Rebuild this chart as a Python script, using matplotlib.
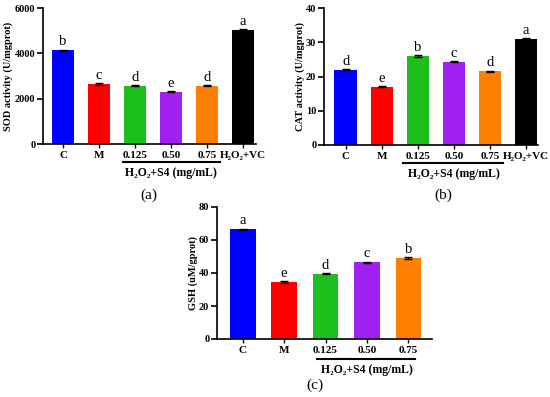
import matplotlib
matplotlib.use("Agg")
import matplotlib.pyplot as plt

plt.rcParams['font.family'] = ['Liberation Serif', 'DejaVu Serif']
plt.rcParams['font.weight'] = 'bold'

cats6 = ["C", "M", "0.125", "0.50", "0.75", "H\u2082O\u2082+VC"]
cats5 = ["C", "M", "0.125", "0.50", "0.75"]
colors = ["#0000FF", "#FF0000", "#1DBF1D", "#A020F0", "#FF8000", "#000000"]

sod = [4130, 2650, 2570, 2300, 2580, 5050]
sod_err = [25, 40, 25, 25, 25, 25]
sod_letters = ["b", "c", "d", "e", "d", "a"]

cat = [22.0, 17.0, 26.0, 24.3, 21.6, 31.0]
cat_err = [0.2, 0.2, 0.2, 0.15, 0.15, 0.1]
cat_letters = ["d", "e", "b", "c", "d", "a"]

gsh = [66.5, 34.5, 39.5, 46.5, 49.0]
gsh_err = [0.4, 0.6, 0.4, 0.4, 0.4]
gsh_letters = ["a", "e", "d", "c", "b"]

W, H = 550, 397
fig = plt.figure(figsize=(W / 100, H / 100), dpi=100)


def ax_at(x0, y0, x1, y1):
    return fig.add_axes([x0 / W, 1 - y1 / H, (x1 - x0) / W, (y1 - y0) / H])


def panel(ax, cats, vals, errs, letters, ymax, ystep, ylabel, xl, xr, letter_off):
    n = len(vals)
    xs = list(range(n))
    ax.bar(xs, vals, width=0.62, color=colors[:n], zorder=2)
    ax.errorbar(xs, vals, yerr=errs, fmt='none', ecolor='black', elinewidth=1,
                capsize=3, capthick=1, zorder=3)
    for x, v, e, l in zip(xs, vals, errs, letters):
        ax.text(x, v + e + letter_off, l, ha='center', va='bottom', fontsize=10.5,
                fontweight='normal')
    ax.set_xlim(xl, xr)
    ax.set_ylim(0, ymax)
    ax.set_yticks(list(range(0, int(ymax) + 1, ystep)))
    ax.set_xticks(xs)
    ax.set_xticklabels(cats, fontsize=8, fontweight='bold')
    ax.tick_params(axis='y', labelsize=7.5, length=4, width=1.2, direction='out', pad=1.5)
    ax.tick_params(axis='x', length=3, width=1, direction='out', pad=2)
    for lab in ax.get_yticklabels():
        lab.set_fontweight('bold')
    ax.set_ylabel(ylabel, fontsize=7.5, fontweight='bold', labelpad=1)
    ax.spines['top'].set_visible(False)
    ax.spines['right'].set_visible(False)
    ax.spines['left'].set_linewidth(1.2)
    ax.spines['bottom'].set_linewidth(1.2)


# (a) SOD
ax1 = ax_at(43, 8, 256, 144)
panel(ax1, cats6, sod, sod_err, sod_letters, 6000, 2000, "SOD activity (U/mgprot)",
      -0.56, 5.36, 60)
ax1.plot([1.65, 4.35], [-0.135, -0.135], color='black', lw=1.5,
         transform=ax1.get_xaxis_transform(), clip_on=False)
ax1.text(3, -0.215, "H\u2082O\u2082+S4 (mg/mL)", transform=ax1.get_xaxis_transform(),
         ha='center', va='center', fontsize=8.5, fontweight='bold')
fig.text(149 / W, 1 - 195 / H, "(a)", ha='center', va='center', fontsize=11,
         fontweight='normal')

# (b) CAT
ax2 = ax_at(324, 8, 538, 145)
panel(ax2, cats6, cat, cat_err, cat_letters, 40, 10, "CAT activity (U/mgprot)",
      -0.6, 5.33, 0.4)
ax2.plot([1.6, 4.35], [-0.135, -0.135], color='black', lw=1.5,
         transform=ax2.get_xaxis_transform(), clip_on=False)
ax2.text(3, -0.215, "H\u2082O\u2082+S4 (mg/mL)", transform=ax2.get_xaxis_transform(),
         ha='center', va='center', fontsize=8.5, fontweight='bold')
fig.text(443 / W, 1 - 195 / H, "(b)", ha='center', va='center', fontsize=11,
         fontweight='normal')

# (c) GSH
ax3 = ax_at(217, 207, 432, 339)
panel(ax3, cats5, gsh, gsh_err, gsh_letters, 80, 20, "GSH (uM/gprot)",
      -0.62, 4.57, 0.8)
ax3.plot([1.8, 4.15], [-0.15, -0.15], color='black', lw=1.5,
         transform=ax3.get_xaxis_transform(), clip_on=False)
ax3.text(3, -0.235, "H\u2082O\u2082+S4 (mg/mL)", transform=ax3.get_xaxis_transform(),
         ha='center', va='center', fontsize=8.5, fontweight='bold')
fig.text(315 / W, 1 - 385 / H, "(c)", ha='center', va='center', fontsize=11,
         fontweight='normal')

fig.savefig("out.png", dpi=100)
